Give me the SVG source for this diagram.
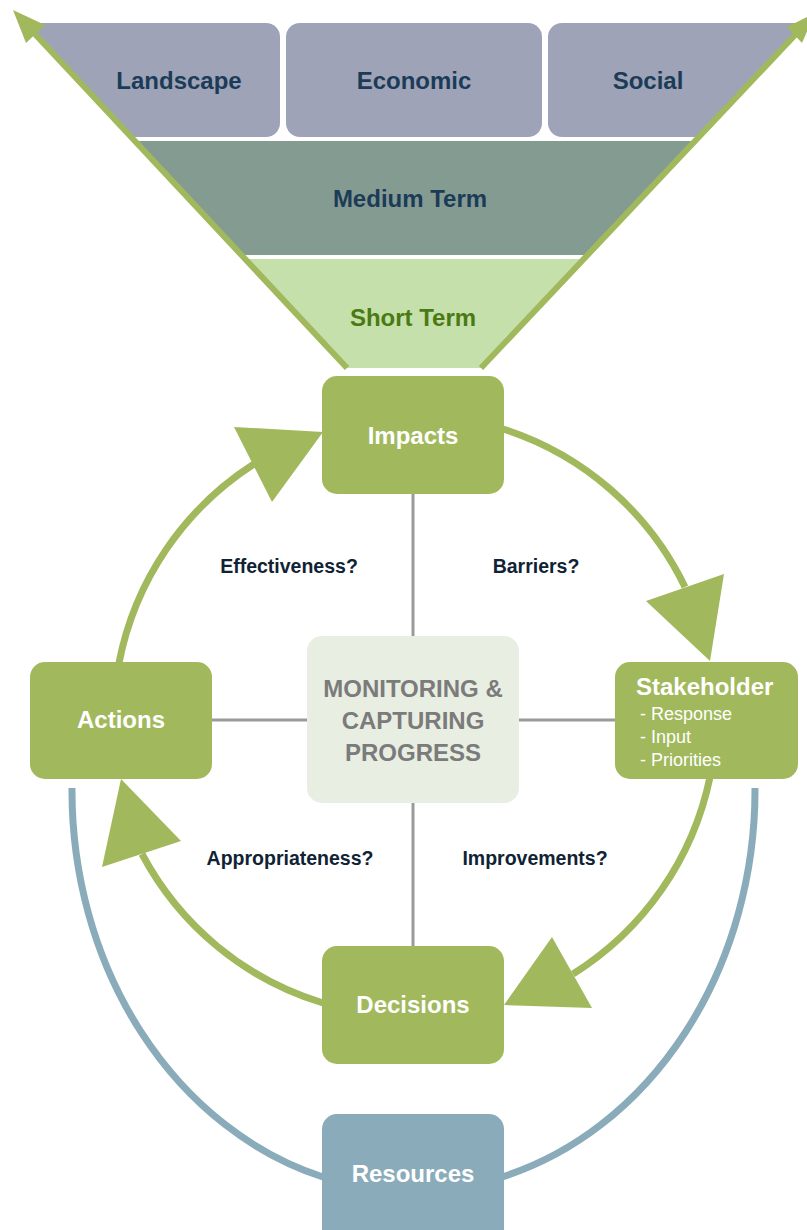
<svg xmlns="http://www.w3.org/2000/svg" width="807" height="1230" viewBox="0 0 807 1230">
  <style>
    .band-label { font-family: "Liberation Sans", Arial, sans-serif; font-weight: bold; font-size: 24px; text-anchor: middle; fill: #1c3b57; }
    .node-label { font-family: "Liberation Sans", Arial, sans-serif; font-weight: bold; font-size: 24px; text-anchor: middle; fill: #ffffff; }
    .question { font-family: "Liberation Sans", Arial, sans-serif; font-weight: bold; font-size: 19.5px; text-anchor: middle; fill: #0f2335; }
    .item { font-family: "Liberation Sans", Arial, sans-serif; font-size: 18px; fill: #ffffff; }
    .green-box { fill: #a1b95c; }
    .cycle { fill: none; stroke: #a1b95c; stroke-width: 7; }
    .head { fill: #a1b95c; }
    .link { stroke: #9a9a9a; stroke-width: 3; }
    .resource-arc { fill: none; stroke: #8aacba; stroke-width: 7; }
  </style>
  <defs>
    <clipPath id="funnel-clip">
      <polygon points="4.9,0 828,0 481,368 347,368"/>
    </clipPath>
  </defs>
  <rect width="807" height="1230" fill="#ffffff"/>

  <!-- Funnel of time horizons -->
  <g id="funnel" clip-path="url(#funnel-clip)">
    <g id="landscape">
      <rect x="0" y="23" width="280" height="114" rx="14" fill="#9ea3b8"/>
      <rect x="0" y="23" width="40" height="40" fill="#9ea3b8"/>
      <text class="band-label" x="179" y="89">Landscape</text>
    </g>
    <g id="economic">
      <rect x="286" y="23" width="256" height="114" rx="14" fill="#9ea3b8"/>
      <text class="band-label" x="414" y="89">Economic</text>
    </g>
    <g id="social">
      <rect x="548" y="23" width="280" height="114" rx="14" fill="#9ea3b8"/>
      <rect x="780" y="23" width="48" height="40" fill="#9ea3b8"/>
      <text class="band-label" x="648" y="89">Social</text>
    </g>
    <g id="medium-term">
      <rect x="0" y="141" width="807" height="114" fill="#849b92"/>
      <text class="band-label" x="410" y="207">Medium Term</text>
    </g>
    <g id="short-term">
      <rect x="0" y="259" width="807" height="109" fill="#c5e0ab"/>
      <text class="band-label" x="413" y="326" style="fill:#4b7a14">Short Term</text>
    </g>
  </g>

  <!-- Connectors -->
  <g id="connectors">
    <!-- funnel edges as outward arrows -->
    <line x1="347" y1="368" x2="33" y2="32" stroke="#a1b95c" stroke-width="6"/>
    <polygon class="head" points="13,10 45,25 26,43"/>
    <line x1="481" y1="368" x2="796" y2="34" stroke="#a1b95c" stroke-width="6"/>
    <polygon class="head" points="815,13 802,43 787,27"/>

    <!-- spokes to the centre -->
    <line class="link" x1="413" y1="493" x2="413" y2="637"/>
    <line class="link" x1="413" y1="802" x2="413" y2="947"/>
    <line class="link" x1="211" y1="720" x2="308" y2="720"/>
    <line class="link" x1="518" y1="720" x2="616" y2="720"/>

    <!-- resources loop -->
    <path class="resource-arc" d="M 72 788 A 343 401 0 0 0 323 1177"/>
    <path class="resource-arc" d="M 502 1177 A 343 401 0 0 0 755 788"/>

    <!-- main cycle -->
    <path class="cycle" d="M 119 663 A 305 305 0 0 1 254 464"/>
    <polygon class="head" points="323,432 234,427 272,502"/>
    <path class="cycle" d="M 503 429 A 305 305 0 0 1 685 587"/>
    <polygon class="head" points="710,661 646,601 724,574"/>
    <path class="cycle" d="M 710 777 A 305 305 0 0 1 573 974"/>
    <polygon class="head" points="504,1005 552,937 592,1008"/>
    <path class="cycle" d="M 323 1003 A 305 305 0 0 1 142 854"/>
    <polygon class="head" points="121,779 102,867 181,841"/>
  </g>

  <!-- Questions -->
  <g id="questions">
    <text class="question" x="289" y="573">Effectiveness?</text>
    <text class="question" x="536" y="573">Barriers?</text>
    <text class="question" x="290" y="865">Appropriateness?</text>
    <text class="question" x="535" y="865">Improvements?</text>
  </g>

  <!-- Nodes -->
  <g id="impacts">
    <rect class="green-box" x="322" y="376" width="182" height="118" rx="15"/>
    <text class="node-label" x="413" y="444">Impacts</text>
  </g>
  <g id="actions">
    <rect class="green-box" x="30" y="662" width="182" height="117" rx="15"/>
    <text class="node-label" x="121" y="728">Actions</text>
  </g>
  <g id="monitoring">
    <rect x="307" y="636" width="212" height="167" rx="15" fill="#e8eee2"/>
    <text class="node-label" x="413" y="697" style="fill:#7b7b7b">MONITORING &amp;</text>
    <text class="node-label" x="413" y="729" style="fill:#7b7b7b">CAPTURING</text>
    <text class="node-label" x="413" y="761" style="fill:#7b7b7b">PROGRESS</text>
  </g>
  <g id="stakeholder">
    <rect class="green-box" x="615" y="662" width="183" height="117" rx="15"/>
    <text class="node-label" x="636" y="695" style="text-anchor:start">Stakeholder</text>
    <text class="item" x="640" y="720">- Response</text>
    <text class="item" x="640" y="743">- Input</text>
    <text class="item" x="640" y="766">- Priorities</text>
  </g>
  <g id="decisions">
    <rect class="green-box" x="322" y="946" width="182" height="118" rx="15"/>
    <text class="node-label" x="413" y="1013">Decisions</text>
  </g>
  <g id="resources">
    <rect x="322" y="1114" width="182" height="130" rx="15" fill="#8aacba"/>
    <text class="node-label" x="413" y="1182">Resources</text>
  </g>
</svg>
